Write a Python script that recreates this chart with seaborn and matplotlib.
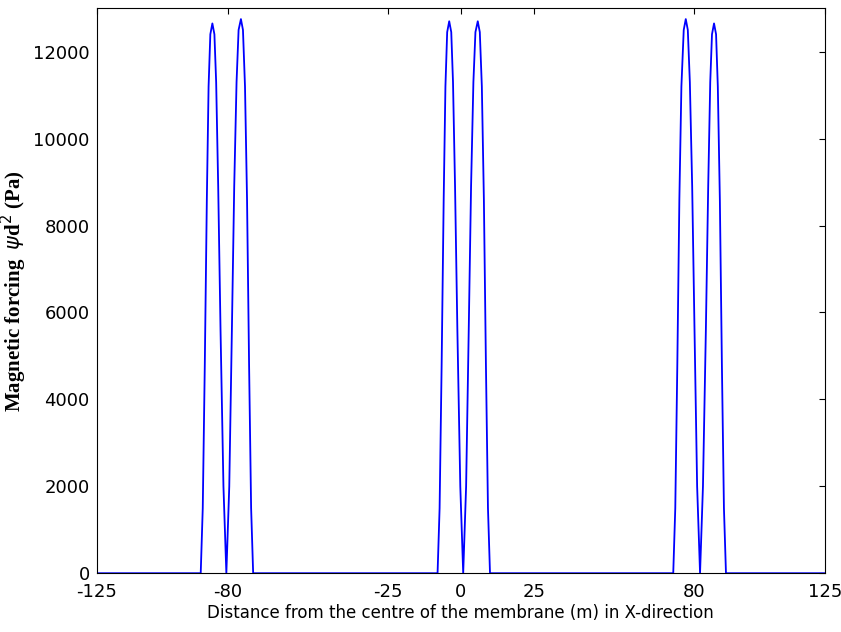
import matplotlib
matplotlib.use("Agg")
import matplotlib.pyplot as plt
import seaborn as sns
import pandas as pd

# positions (m) and forcing values (Pa)
x_left = [-89.3, -88.6, -87.9, -87.2, -86.6, -86.0, -85.3, -84.6, -84.0, -83.3, -82.5, -81.5, -80.5,
          -79.5, -78.6, -77.8, -77.0, -76.3, -75.5, -74.8, -74.1, -73.4, -72.7, -72.0, -71.3]
y_left = [0, 1500, 4800, 8600, 11200, 12400, 12650, 12400, 11300, 8900, 5600, 2000, 0,
          2000, 5600, 8900, 11300, 12500, 12750, 12500, 11200, 8600, 4800, 1500, 0]

x_mid = [-8.0, -7.3, -6.6, -5.9, -5.3, -4.7, -4.0, -3.3, -2.7, -2.0, -1.2, -0.2, 0.8,
         1.8, 2.7, 3.5, 4.3, 5.0, 5.8, 6.5, 7.2, 7.9, 8.6, 9.3, 10.0]
y_mid = [0, 1500, 4800, 8600, 11200, 12450, 12700, 12450, 11300, 8900, 5600, 2000, 0,
         2000, 5600, 8900, 11300, 12450, 12700, 12450, 11200, 8600, 4800, 1500, 0]

x_right = [72.9, 73.6, 74.3, 75.0, 75.7, 76.5, 77.2, 77.9, 78.6, 79.4, 80.2, 81.1, 82.1,
           83.1, 84.1, 84.9, 85.6, 86.2, 86.9, 87.6, 88.2, 88.9, 89.6, 90.3, 91.0]
y_right = [0, 1500, 4800, 8600, 11200, 12500, 12750, 12500, 11300, 8900, 5600, 2000, 0,
           2000, 5600, 8900, 11300, 12400, 12650, 12400, 11200, 8600, 4800, 1500, 0]

x = [-125] + x_left + x_mid + x_right + [125]
y = [0] + y_left + y_mid + y_right + [0]
df = pd.DataFrame({"x": x, "y": y})

sns.set_style("white")
plt.rcParams["axes.unicode_minus"] = False
fig = plt.figure(figsize=(8.41, 6.32), dpi=100)
ax = fig.add_axes([0.115, 0.093, 0.866, 0.894])
sns.lineplot(data=df, x="x", y="y", sort=False, estimator=None, color="#0000ff", linewidth=1.3, ax=ax)

ax.set_xlim(-125, 125)
ax.set_ylim(0, 13000)
ax.set_xticks([-125, -80, -25, 0, 25, 80, 125])
ax.set_yticks([0, 2000, 4000, 6000, 8000, 10000, 12000])
ax.tick_params(direction="in", labelsize=13, length=4, top=True, right=True, colors="black")
ax.tick_params(axis="x", pad=7)
ax.tick_params(axis="y", pad=5)
for s in ax.spines.values():
    s.set_color("black")
    s.set_linewidth(0.8)
ax.set_xlabel("Distance from the centre of the membrane (m) in X-direction", fontsize=12, color="black", labelpad=2)
ax.set_ylabel(r"Magnetic forcing  $\psi$d$^2$ (Pa)", fontsize=15, fontweight="bold",
              family="Liberation Serif", color="black", labelpad=3)

plt.savefig("out.png", dpi=100)
